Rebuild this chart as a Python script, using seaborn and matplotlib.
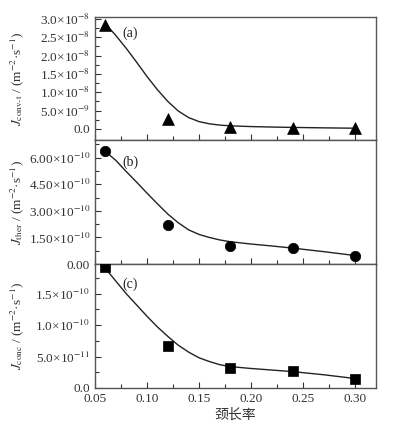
import numpy as np
import pandas as pd
import matplotlib
matplotlib.use('Agg')
import matplotlib.pyplot as plt
import seaborn as sns
from matplotlib.ticker import FixedLocator, MultipleLocator

sns.set_theme(style="ticks")
plt.rcParams['font.family'] = ['Liberation Serif', 'DejaVu Serif']
plt.rcParams['mathtext.fontset'] = 'stix'

# measured points
neck_ratio = [0.06, 0.12, 0.18, 0.24, 0.30]
j_conv = [2.84e-8, 2.7e-9, 6e-10, 3e-10, 2e-10]
j_ther = [6.35e-10, 2.2e-10, 1.02e-10, 0.92e-10, 0.45e-10]
j_conc = [1.92e-10, 0.66e-10, 0.31e-10, 0.27e-10, 0.15e-10]

# fitted curves
fit_x = [0.06, 0.07, 0.08, 0.09, 0.10, 0.11, 0.12, 0.13, 0.14, 0.15, 0.16, 0.17, 0.18, 0.20,
         0.22, 0.24, 0.27, 0.30]
fit_conv = [2.87e-8, 2.55e-8, 2.2e-8, 1.82e-8, 1.43e-8, 1.07e-8, 0.75e-8, 0.49e-8, 0.31e-8,
            0.2e-8, 0.14e-8, 0.105e-8, 0.085e-8, 0.065e-8, 0.052e-8, 0.042e-8, 0.03e-8, 0.02e-8]
fit_ther = [6.35e-10, 5.85e-10, 5.22e-10, 4.62e-10, 4.0e-10, 3.4e-10, 2.82e-10, 2.33e-10,
            1.93e-10, 1.67e-10, 1.5e-10, 1.36e-10, 1.26e-10, 1.13e-10, 1.02e-10, 0.9e-10,
            0.7e-10, 0.48e-10]
fit_conc = [1.9e-10, 1.7e-10, 1.5e-10, 1.32e-10, 1.14e-10, 0.97e-10, 0.82e-10, 0.68e-10,
            0.57e-10, 0.48e-10, 0.42e-10, 0.37e-10, 0.34e-10, 0.31e-10, 0.285e-10, 0.26e-10,
            0.21e-10, 0.15e-10]

# tick values and labels
ticks_a = [0, 5e-9, 1e-8, 1.5e-8, 2e-8, 2.5e-8, 3e-8]
labels_a = ['0.0', '5.0×10$^{-9}$', '1.0×10$^{-8}$', '1.5×10$^{-8}$', '2.0×10$^{-8}$',
            '2.5×10$^{-8}$', '3.0×10$^{-8}$']
ticks_b = [0, 1.5e-10, 3e-10, 4.5e-10, 6e-10]
labels_b = ['0.00', '1.50×10$^{-10}$', '3.00×10$^{-10}$', '4.50×10$^{-10}$', '6.00×10$^{-10}$']
ticks_c = [0, 5e-11, 1e-10, 1.5e-10]
labels_c = ['0.0', '5.0×10$^{-11}$', '1.0×10$^{-10}$', '1.5×10$^{-10}$']
x_ticks = [0.05, 0.10, 0.15, 0.20, 0.25, 0.30]

fig = plt.figure(figsize=(3.93, 4.28), dpi=100)
fig.patch.set_facecolor('white')
left, width = 0.2417, 0.715
ax_a = fig.add_axes([left, 0.673, width, 0.287])
ax_b = fig.add_axes([left, 0.383, width, 0.290])
ax_c = fig.add_axes([left, 0.0935, width, 0.2895])

panels = [
    (ax_a, j_conv, fit_conv, '^', 8.5, ticks_a, labels_a, (-3e-9, 3.05e-8), r'$J_{\rm conv\text{-}t}$', '(a)', 0.87),
    (ax_b, j_ther, fit_ther, 'o', 7.5, ticks_b, labels_b, (0, 7e-10), r'$J_{\rm ther}$', '(b)', 0.82),
    (ax_c, j_conc, fit_conc, 's', 7, ticks_c, labels_c, (0, 1.97e-10), r'$J_{\rm conc}$', '(c)', 0.84),
]

for ax, pts, fit, mk, ms, yt, yl, ylim, sym, tag, ty in panels:
    sns.lineplot(x=fit_x, y=fit, ax=ax, color='#222222', lw=1.0)
    sns.scatterplot(x=neck_ratio, y=pts, ax=ax, marker=mk, s=ms ** 2, color='black',
                    edgecolor='black', linewidth=0.5, zorder=3)
    ax.set_xlim(0.05, 0.32)
    ax.set_ylim(*ylim)
    ax.yaxis.set_major_locator(FixedLocator(yt))
    ax.set_yticklabels(yl)
    ax.yaxis.set_minor_locator(FixedLocator([v + (yt[1] - yt[0]) / 2 for v in yt]))
    ax.xaxis.set_major_locator(FixedLocator(x_ticks))
    ax.xaxis.set_minor_locator(MultipleLocator(0.025))
    ax.tick_params(axis='both', which='both', direction='in', top=False, right=False,
                   labelsize=9.5, colors='#333333', width=0.8)
    ax.tick_params(which='major', length=4)
    ax.tick_params(which='minor', length=3)
    for sp in ax.spines.values():
        sp.set_color('#555555')
        sp.set_linewidth(1.0)
    ax.set_ylabel(sym + ' / (m$^{-2}$·s$^{-1}$)', fontsize=9.5, color='#333333')
    ax.yaxis.set_label_coords(-0.245, 0.5)
    ax.text(0.125, ty, tag, transform=ax.transAxes, fontsize=10, ha='center', va='center',
            color='#222222')
    ax.set_xlabel('')

ax_a.set_xticklabels([])
ax_b.set_xticklabels([])
ax_c.set_xticklabels(['%.2f' % v for v in x_ticks])
ax_c.set_xlabel('颈长率', fontsize=10, color='#333333',
                family=['Noto Sans CJK SC', 'DejaVu Sans'], labelpad=2)

fig.savefig('out.png', dpi=100)
